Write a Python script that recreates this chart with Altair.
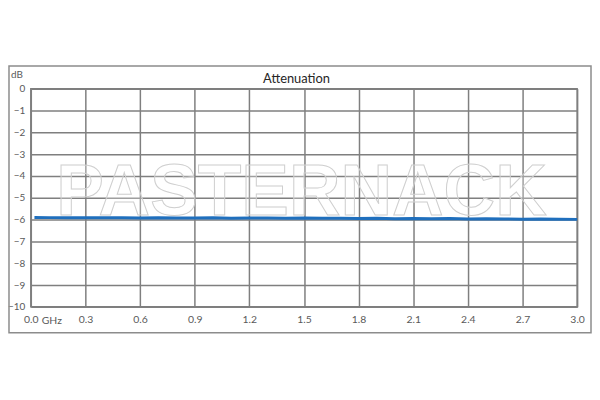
import altair as alt
import pandas as pd

freq_ghz = [0.02, 0.1, 0.2, 0.3, 0.4, 0.5, 0.6, 0.7, 0.8, 0.9, 1.0, 1.1, 1.2, 1.3, 1.4, 1.5,
            1.6, 1.7, 1.8, 1.9, 2.0, 2.1, 2.2, 2.3, 2.4, 2.5, 2.6, 2.7, 2.8, 2.9, 3.0]
atten_db = [-5.90, -5.91, -5.92, -5.91, -5.92, -5.92, -5.93, -5.92, -5.93, -5.93, -5.92,
            -5.94, -5.93, -5.93, -5.94, -5.93, -5.94, -5.94, -5.95, -5.94, -5.96, -5.95,
            -5.96, -5.95, -5.97, -5.96, -5.97, -5.98, -5.97, -5.98, -5.99]
x_ticks = [0.0, 0.3, 0.6, 0.9, 1.2, 1.5, 1.8, 2.1, 2.4, 2.7, 3.0]
y_ticks = [0, -1, -2, -3, -4, -5, -6, -7, -8, -9, -10]

df = pd.DataFrame({"f": freq_ghz, "a": atten_db})
one = pd.DataFrame({"k": [0]})

FONT = "Lato"
GRID = "#7f7f7f"
LBL = "#595959"

xs = alt.Scale(domain=[0, 3], nice=False, zero=False)
ys = alt.Scale(domain=[-10, 0], nice=False)

line = alt.Chart(df).mark_line(color="#1f6fbd", strokeWidth=3).encode(
    x=alt.X("f:Q", scale=xs, axis=alt.Axis(
        values=x_ticks, format=".1f", title=None, grid=True, gridColor=GRID, gridWidth=1.5,
        tickSize=0, labelPadding=8, domain=False, labelColor=LBL, labelFontSize=10.5,
        labelFont=FONT, labelFlush=False)),
    y=alt.Y("a:Q", scale=ys, axis=alt.Axis(
        values=y_ticks, format="d", title=None, grid=True, gridColor=GRID, gridWidth=1.5,
        tickSize=0, labelPadding=6, domain=False, labelColor=LBL, labelFontSize=10,
        labelFont=FONT)),
)

border = alt.Chart(one).mark_rect(filled=False, stroke="#8c8c8c", strokeWidth=1.5).encode(
    x=alt.value(-22), x2=alt.value(565), y=alt.value(-23), y2=alt.value(246))

watermark = alt.Chart(one).mark_text(
    text="PASTERNACK", font="Liberation Sans", fontWeight="bold", fontSize=72,
    fill="#ffffff", fillOpacity=0.25, stroke="#cfcfcf", strokeWidth=1,
    align="center", baseline="alphabetic").encode(x=alt.value(273), y=alt.value(127))

title = alt.Chart(one).mark_text(
    text="Attenuation", font=FONT, fontSize=13, color="#262626",
    align="center", baseline="middle").encode(x=alt.value(268), y=alt.value(-10))

db = alt.Chart(one).mark_text(
    text="dB", font=FONT, fontSize=10, color=LBL, align="left",
    baseline="middle").encode(x=alt.value(-20), y=alt.value(-14))

ghz = alt.Chart(one).mark_text(
    text="GHz", font=FONT, fontSize=10.5, color=LBL, align="left",
    baseline="middle").encode(x=alt.value(11), y=alt.value(234))

chart = alt.layer(border, watermark, line, title, db, ghz).properties(
    width=551, height=220,
    autosize=alt.AutoSizeParams(type="none"),
    padding={"left": 23, "top": 80, "right": 15, "bottom": 30},
    background="white",
).configure_view(stroke=GRID, strokeWidth=1.5)

chart.save("out.html", embed_options={"renderer": "svg", "actions": False})
